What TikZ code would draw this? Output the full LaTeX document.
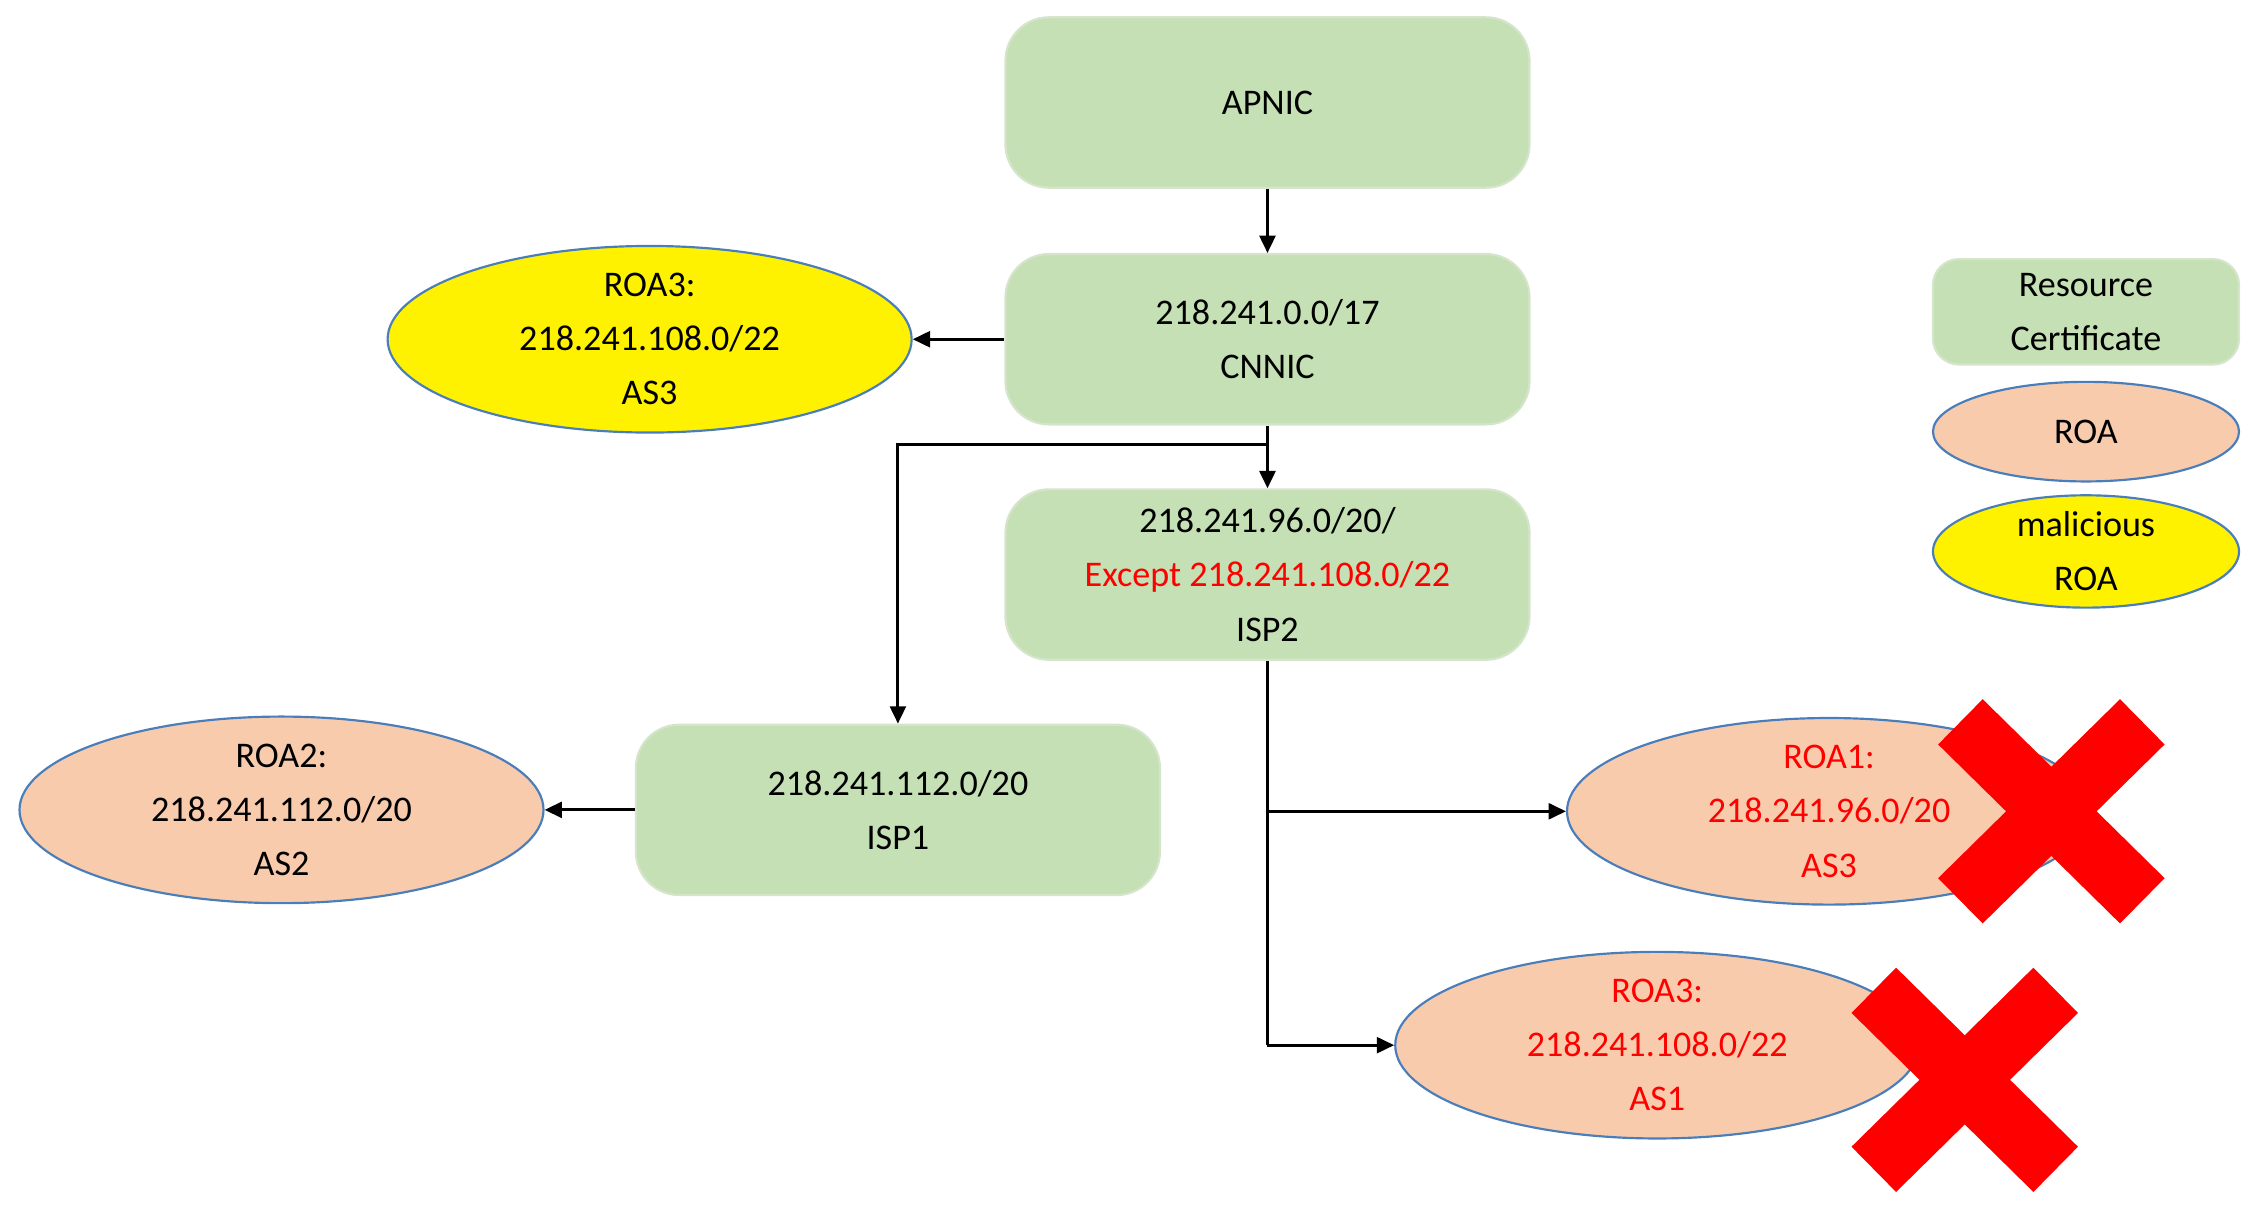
\documentclass[tikz,border=0pt]{standalone}
\usepackage{fontspec}
\setmainfont{Carlito}
\usetikzlibrary{shapes.geometric,arrows.meta}
\definecolor{cg}{HTML}{C5E0B4}
\definecolor{cgb}{HTML}{D5E5CB}
\definecolor{co}{HTML}{F8CBAD}
\definecolor{cb}{HTML}{4A7EBB}
\begin{document}
\begin{tikzpicture}[x=1pt,y=-1pt,
  every node/.style={font=\fontsize{25}{37.5}\selectfont, align=center, inner sep=0pt},
  cert/.style={draw=cgb, line width=1.5pt, fill=cg, rounded corners=30pt, minimum width=363pt, minimum height=118pt},
  roa/.style={ellipse, draw=cb, line width=1.5pt, fill=co, minimum width=363pt, minimum height=116pt},
  mal/.style={roa, fill=yellow},
  arr/.style={-{Triangle[length=12pt,width=11pt]}, line width=2pt},
  ln/.style={line width=2pt},
  xm/.style={red, line width=44pt}]
\useasboundingbox (0,0) rectangle (1560,836);
\node[cert] (apnic) at (878,71) {APNIC};
\node[cert] (cnnic) at (878,235) {218.241.0.0/17\\CNNIC};
\node[cert] (isp2) at (878,398) {218.241.96.0/20/\\\textcolor{red}{Except 218.241.108.0/22}\\ISP2};
\node[cert] (isp1) at (622,561) {218.241.112.0/20\\ISP1};
\node[mal] (roa3a) at (450,235) {ROA3:\\218.241.108.0/22\\AS3};
\node[roa] (roa2) at (195,561) {ROA2:\\218.241.112.0/20\\AS2};
\node[roa, text=red] (roa1) at (1267,562) {ROA1:\\218.241.96.0/20\\AS3};
\node[roa, text=red] (roa3b) at (1148,724) {ROA3:\\218.241.108.0/22\\AS1};
\node[cert, minimum width=212pt, minimum height=73pt, rounded corners=18pt] (lc) at (1445,216) {Resource\\Certificate};
\node[roa, minimum width=212pt, minimum height=69pt] (lr) at (1445,299) {ROA};
\node[mal, minimum width=212pt, minimum height=70pt] (lm) at (1445,382) {malicious\\ROA};
\draw[xm] (1358,500) -- (1484,624) (1484,500) -- (1358,624);
\draw[xm] (1298,686) -- (1424,810) (1424,686) -- (1298,810);
\coordinate (j1) at (878,308);
\coordinate (j2) at (622,308);
\coordinate (j3) at (878,562);
\coordinate (j4) at (878,724);
\draw[arr] (apnic) -- (cnnic);
\draw[arr] (cnnic) -- (roa3a);
\draw[ln] (cnnic.south) -- (j1);
\draw[arr] (j1) -- (isp2);
\draw[arr] (j1) -- (j2) -- (isp1);
\draw[arr] (isp1) -- (roa2);
\draw[ln] (isp2.south) -- (j4);
\draw[arr] (j4) -- (roa3b);
\draw[arr] (j3) -- (roa1);
\end{tikzpicture}
\end{document}
